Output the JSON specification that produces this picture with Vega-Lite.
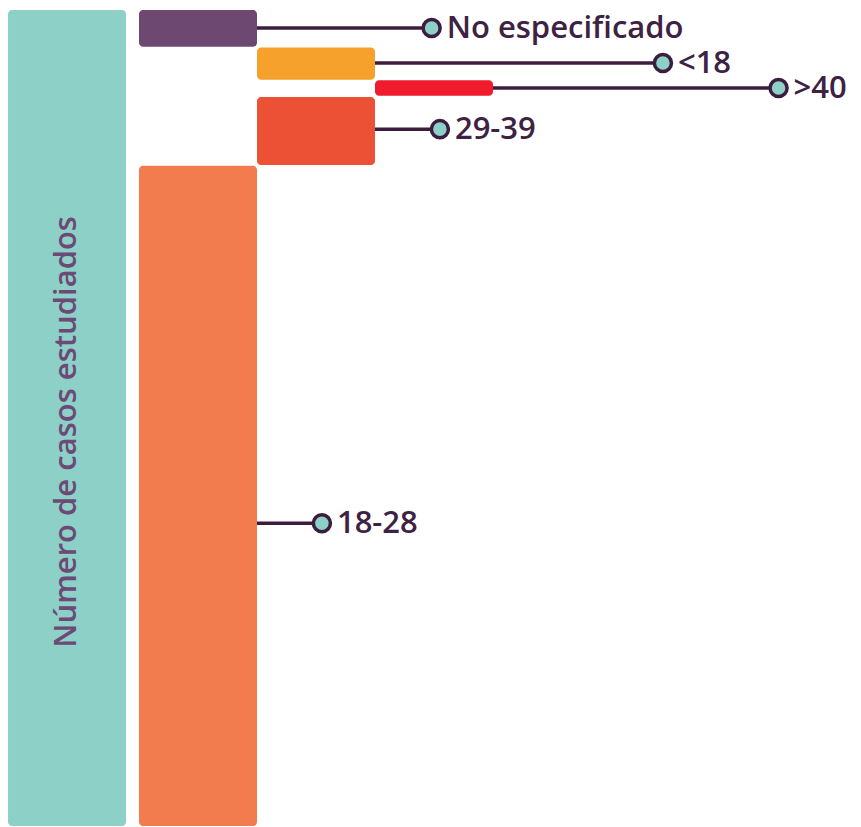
{
  "$schema": "https://vega.github.io/schema/vega-lite/v6.json",
  "width": 861,
  "height": 827,
  "padding": 0,
  "autosize": {"type": "none"},
  "background": "#ffffff",
  "config": {"view": {"stroke": null}},
  "data": {
    "values": [
      {"name": "Número de casos estudiados", "x0": -0.11, "x1": 0.89, "y0": 0, "y1": 100, "ly": 51.7},
      {"name": "No especificado", "x0": 1, "x1": 2, "y0": 0, "y1": 4.5, "cx": 3.48, "ly": 2.2},
      {"name": "<18", "x0": 2, "x1": 3, "y0": 4.6, "y1": 8.55, "cx": 5.44, "ly": 6.5},
      {"name": ">40", "x0": 3, "x1": 4, "y0": 8.6, "y1": 10.5, "cx": 6.42, "ly": 9.55},
      {"name": "29-39", "x0": 2, "x1": 3, "y0": 10.65, "y1": 19.0, "cx": 3.55, "ly": 14.6},
      {"name": "18-28", "x0": 1, "x1": 2, "y0": 19.1, "y1": 100, "cx": 2.55, "ly": 62.9}
    ]
  },
  "encoding": {},
  "layer": [
    {
      "mark": {"type": "rect", "cornerRadius": 4},
      "encoding": {
        "x": {"field": "x0", "type": "quantitative", "axis": null, "scale": {"domain": [0, 7], "range": [21, 847], "nice": false, "zero": false}},
        "x2": {"field": "x1"},
        "y": {"field": "y0", "type": "quantitative", "axis": null, "scale": {"domain": [0, 100], "range": [10, 826], "nice": false, "zero": false}},
        "y2": {"field": "y1"},
        "color": {
          "field": "name", "type": "nominal", "legend": null,
          "scale": {
            "domain": ["Número de casos estudiados", "No especificado", "<18", ">40", "29-39", "18-28"],
            "range": ["#8dd0c7", "#6d4871", "#f5a12b", "#ee1c2d", "#ec5136", "#f27c4e"]
          }
        }
      }
    },
    {
      "transform": [{"filter": "isValid(datum.cx)"}],
      "mark": {"type": "rule", "strokeWidth": 3.5, "color": "#3b1d3e"},
      "encoding": {
        "x": {"field": "x1", "type": "quantitative"},
        "x2": {"field": "cx"},
        "y": {"field": "ly", "type": "quantitative"}
      }
    },
    {
      "transform": [{"filter": "isValid(datum.cx)"}],
      "mark": {"type": "point", "shape": "circle", "filled": false, "fill": "#8dd0c7", "fillOpacity": 1, "stroke": "#3b1d3e", "strokeWidth": 3.5, "opacity": 1, "size": 290},
      "encoding": {
        "x": {"field": "cx", "type": "quantitative"},
        "y": {"field": "ly", "type": "quantitative"}
      }
    },
    {
      "transform": [{"filter": "isValid(datum.cx)"}],
      "mark": {"type": "text", "align": "left", "baseline": "middle", "dx": 15, "dy": 1, "font": "Open Sans", "fontSize": 31, "fontWeight": 600, "color": "#3d2243"},
      "encoding": {
        "x": {"field": "cx", "type": "quantitative"},
        "y": {"field": "ly", "type": "quantitative"},
        "text": {"field": "name"}
      }
    },
    {
      "transform": [{"filter": "!isValid(datum.cx)"}],
      "mark": {"type": "text", "align": "center", "baseline": "middle", "angle": 270, "dx": 0, "font": "Open Sans", "fontSize": 31, "fontWeight": 600, "color": "#6b4a75"},
      "encoding": {
        "x": {"datum": 0.39, "type": "quantitative"},
        "y": {"field": "ly", "type": "quantitative"},
        "text": {"field": "name"}
      }
    }
  ]
}
